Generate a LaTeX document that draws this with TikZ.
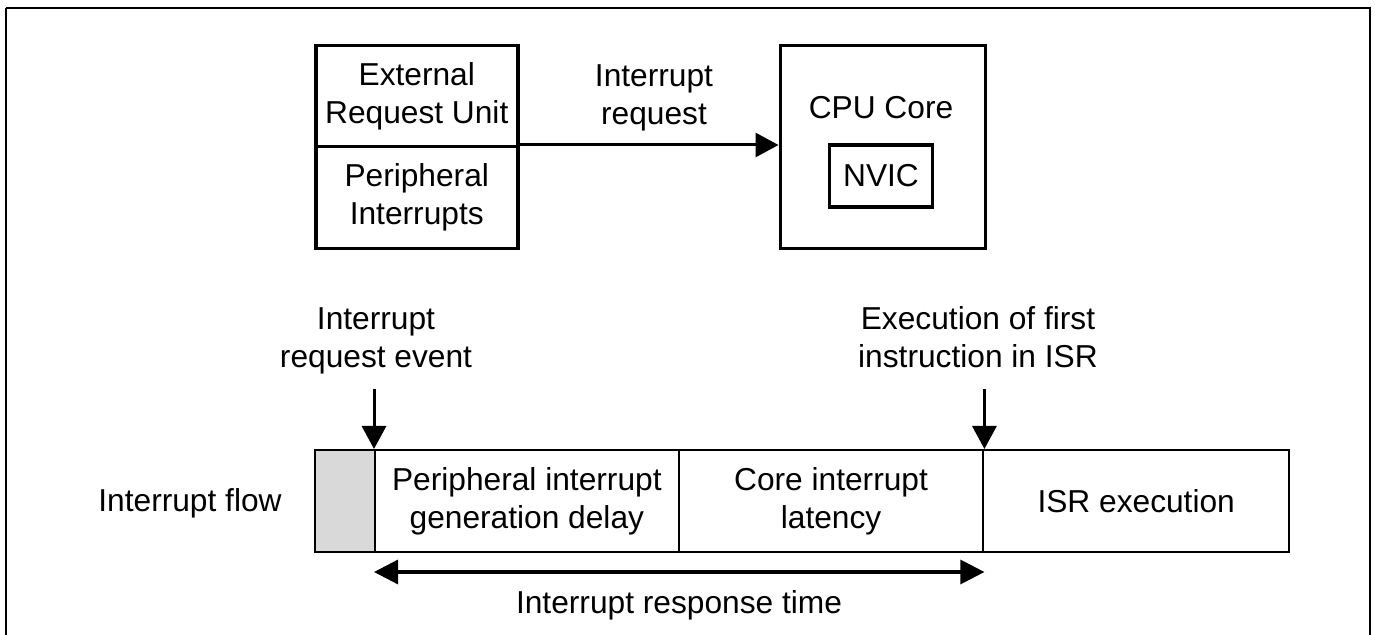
\documentclass[tikz,border=0pt]{standalone}
\usepackage{fontspec}
\setmainfont{Liberation Sans}
\usetikzlibrary{arrows.meta}
\begin{document}
\begin{tikzpicture}[x=0.5pt, y=-0.5pt,
  every node/.style={font=\fontsize{15.85pt}{19pt}\selectfont, inner sep=0pt, align=center},
  unitbox/.style={draw, line width=1.75pt, rectangle, anchor=north west},
  cellbox/.style={draw, line width=1pt, rectangle, anchor=north west,
    minimum height=51pt},
  lbl/.style={},
  arr/.style={line width=1.5pt, -{Triangle[length=11.5pt, width=12pt]}},
  darr/.style={line width=1.6pt, {Triangle[length=12pt, width=12pt]}-{Triangle[length=12pt, width=12pt]}}
]
\useasboundingbox (0,0) rectangle (1375,635);
\clip (0,0) rectangle (1375,635);

% outer frame (runs past the lower edge)
\draw[line width=1pt] (6,8) -- (1370,8) -- (1370,700) (6,8) -- (6,700);

% interrupt sources
\node[unitbox, minimum width=101pt, minimum height=50.5pt] (eru) at (314,44)
  {External\\Request Unit};
\node[unitbox, minimum width=101pt, minimum height=51pt] (pi) at (314,145)
  {Peripheral\\Interrupts};

% CPU core with NVIC
\node[unitbox, minimum width=102.5pt, minimum height=101.5pt] (cpu) at (778.5,44) {};
\node[lbl, anchor=base] (cpulbl) at (881,118.3) {CPU Core};
\node[draw, line width=1.75pt, minimum width=51.5pt, minimum height=31pt] (nvic) at (881,176) {NVIC};

% request path
\draw[arr] (pi.north east) -- (pi.north east -| cpu.west);
\node[lbl, anchor=south] (reqlbl) at (654,131.7) {Interrupt\\request};

% interrupt flow bar
\node[cellbox, fill={rgb,255:red,217;green,217;blue,217}, minimum width=30pt] (idle) at (314,449) {};
\node[cellbox, minimum width=151.85pt] (pid) at (374,449) {Peripheral interrupt\\generation delay};
\node[cellbox, minimum width=152.35pt] (cil) at (677.7,449) {Core interrupt\\latency};
\node[cellbox, minimum width=152.8pt] (isr) at (982.4,449) {ISR execution};
\node[lbl, anchor=base] (flowlbl) at (190,511.7) {Interrupt flow};

% event markers
\coordinate (evtop) at ([yshift=30pt]pid.north west);
\coordinate (isrtop) at ([yshift=30pt]cil.north east);
\draw[arr] (evtop) -- (pid.north west);
\draw[arr] (isrtop) -- (cil.north east);
\node[lbl, anchor=south] (evlbl) at (376,374.7) {Interrupt\\request event};
\node[lbl, anchor=south] (isrlbl) at (978,368) {Execution of first\\instruction in ISR};

% response time span
\coordinate (rta) at ([yshift=-9.5pt]pid.south west);
\coordinate (rtb) at ([yshift=-9.5pt]cil.south east);
\draw[darr] (rta) -- (rtb);
\node[lbl, anchor=base] (rtlbl) at (679,613) {Interrupt response time};
\end{tikzpicture}
\end{document}
